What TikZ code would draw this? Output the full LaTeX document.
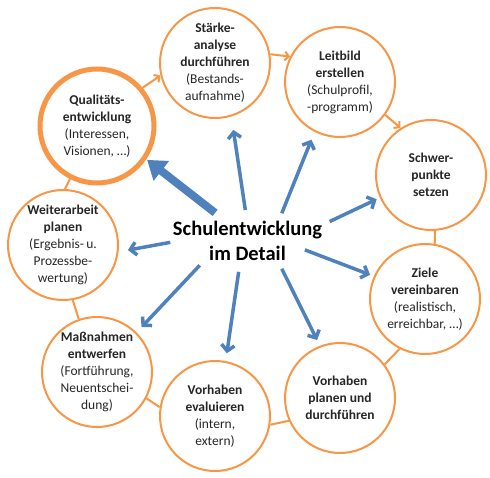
\documentclass[tikz,border=0pt]{standalone}
\usepackage{fontspec}
\setmainfont{Carlito}
\usetikzlibrary{arrows.meta,shapes.geometric}
\definecolor{ringorange}{HTML}{F79646}
\definecolor{spokeblue}{HTML}{4F81BD}

\begin{document}
\begin{tikzpicture}[
  stage/.style={draw=ringorange, line width=2pt, circle, minimum size=110pt, inner sep=0pt, align=center, text=black!85, font=\fontsize{13.5}{17}\selectfont},
  flow/.style={draw=ringorange, line width=2pt, -{Straight Barb[length=4pt,width=9pt]}},
  link/.style={draw=ringorange, line width=2pt},
  spoke/.style={draw=spokeblue, line width=3.5pt, -{Straight Barb[length=6pt,width=13pt]}},
  bigspoke/.style={draw=spokeblue, line width=8pt, -{Triangle[length=18pt,width=24pt]}}
]
\useasboundingbox (0pt,0pt) rectangle (490pt,-478pt);
\node (title) [ellipse, inner xsep=-20pt, inner ysep=2pt, align=center, font=\fontsize{20.5}{25}\selectfont\bfseries] at (247.5pt,-241pt) {Schulentwicklung\\im Detail};
\node (staerke) [stage, above of=title, node distance=178pt, xshift=-32.5pt] {\textbf{Stärke-}\\\textbf{analyse}\\\textbf{durchführen}\\(Bestands-\\aufnahme)};
\node (leitbild) [stage, above of=title, node distance=159pt, xshift=92.5pt] {\textbf{Leitbild}\\\textbf{erstellen}\\(Schulprofil,\\-programm)};
\node (schwer) [stage, right of=title, node distance=183.5pt, yshift=66pt] {\textbf{Schwer-}\\\textbf{punkte}\\\textbf{setzen}};
\node (ziele) [stage, right of=title, node distance=177.5pt, yshift=-58pt] {\textbf{Ziele}\\\textbf{vereinbaren}\\(realistisch,\\erreichbar, …)};
\node (planen) [stage, below of=title, node distance=157pt, xshift=92.5pt] {\textbf{Vorhaben}\\\textbf{planen und}\\\textbf{durchführen}};
\node (eval) [stage, below of=title, node distance=175pt, xshift=-32.5pt] {\textbf{Vorhaben}\\\textbf{evaluieren}\\(intern,\\extern)};
\node (mass) [stage, below of=title, node distance=131pt, xshift=-150.5pt] {\textbf{Maßnahmen}\\\textbf{entwerfen}\\(Fortführung,\\Neuentschei-\\dung)};
\node (weiter) [stage, left of=title, node distance=184.5pt, yshift=-4pt] {\textbf{Weiterarbeit}\\\textbf{planen}\\(Ergebnis-\,u.\\Prozessbe-\\wertung)};
\node (quali) [stage, line width=5pt, minimum size=114pt, above of=title, node distance=115pt, xshift=-150.5pt] {\textbf{Qualitäts-}\\\textbf{entwicklung}\\(Interessen,\\Visionen, …)};
\draw[flow] (quali.40) -- (staerke.193);
\draw[flow] (staerke.9) -- (leitbild.153);
\draw[flow] (leitbild.-36) -- (schwer.123);
\draw[link] (schwer.-86) -- (ziele.80);
\draw[link] (ziele.243) -- (planen.37);
\draw[link] (planen.204) -- (eval.-9);
\draw[link] (eval.171) -- (mass.-28);
\draw[link] (mass.109) -- (weiter.-80);
\draw[link] (weiter.88) -- (quali.243);
\draw[bigspoke, shorten >=1pt] (title.139) -- (quali.-34);
\draw[spoke, shorten >=13.5pt] (title.94) -- (staerke.-73);
\draw[spoke, shorten >=8.4pt] (title.39) -- (leitbild.243);
\draw[spoke, shorten <=14pt, shorten >=3.5pt] (title.11) -- (schwer.204);
\draw[spoke, shorten <=-13pt, shorten >=4pt] (title.-11) -- (ziele.156);
\draw[spoke, shorten >=6.4pt] (title.-39) -- (planen.111);
\draw[spoke, shorten >=7.8pt] (title.-106) -- (eval.79);
\draw[spoke, shorten >=7.2pt] (title.-153) -- (mass.45);
\draw[spoke, shorten >=9.5pt] (title.181) -- (weiter.-7);
\end{tikzpicture}
\end{document}
